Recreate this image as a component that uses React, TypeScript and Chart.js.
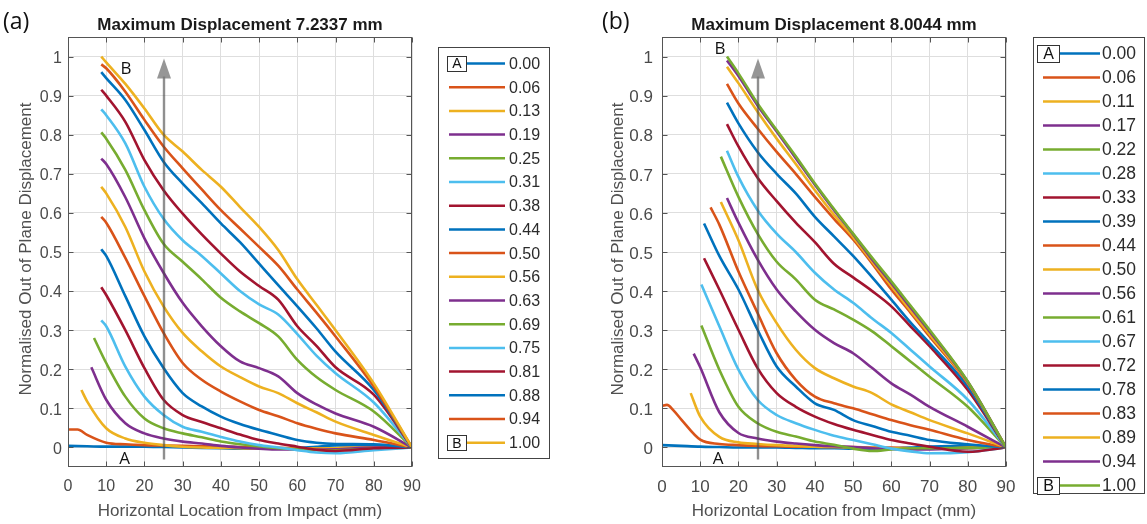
import React, { useEffect, useRef } from 'react';
import { Chart, registerables } from 'chart.js';

Chart.register(...registerables);

const FONT = "'Liberation Sans', Arial, Helvetica, sans-serif";
const TAG_FONT = "'Open Sans', 'Liberation Sans', sans-serif";
const LINE_COLORS = ['#0072BD', '#D95319', '#EDB120', '#7E2F8E', '#77AC30', '#4DBEEE', '#A2142F'];

// Shared sample positions along the plate (mm)
const xGrid = [5, 10, 15, 20, 25, 30, 35, 40, 45, 50, 55, 60, 65, 70, 80, 90];
const xTicks = [0, 10, 20, 30, 40, 50, 60, 70, 80, 90];
const yTicks = [0, 0.1, 0.2, 0.3, 0.4, 0.5, 0.6, 0.7, 0.8, 0.9, 1];
const yTickLabels = ['0', '0.1', '0.2', '0.3', '0.4', '0.5', '0.6', '0.7', '0.8', '0.9', '1'];

// Panel (a): normalised time labels
const labelsA = ['0.00', '0.06', '0.13', '0.19', '0.25', '0.31', '0.38', '0.44', '0.50', '0.56', '0.63', '0.69', '0.75', '0.81', '0.88', '0.94', '1.00'];
// leading points of each profile, [x, y]
const headsA: number[][][] = [
  [[0, 0.004]],
  [[0, 0.046], [2.5, 0.046]],
  [[3.5, 0.147]],
  [[6.1, 0.205]],
  [[6.8, 0.28]],
  [[8.7, 0.325]],
  [[8.7, 0.41]],
  [[8.7, 0.507]],
  [[8.7, 0.59]],
  [[8.7, 0.667]],
  [[8.7, 0.739]],
  [[8.7, 0.806]],
  [[8.7, 0.865]],
  [[8.7, 0.915]],
  [[8.7, 0.96]],
  [[8.7, 0.98]],
  [[8.7, 1.0]],
];
// profile values on xGrid
const rowsA: (number | null)[][] = [
  [0.003, 0.002, 0.002, 0.002, 0.001, 0.0, -0.001, -0.002, -0.003, -0.003, -0.003, -0.002, 0.002, 0.005, 0.006, 0],
  [0.032, 0.012, 0.008, 0.006, 0.005, 0.004, 0.003, 0.002, 0.001, 0, -0.001, -0.002, -0.003, -0.002, 0, 0],
  [0.118, 0.049, 0.023, 0.012, 0.006, 0.002, 0, -0.001, -0.002, -0.003, -0.003, -0.003, -0.003, -0.002, 0, 0],
  [null, 0.122, 0.062, 0.036, 0.023, 0.015, 0.01, 0.004, 0, -0.003, -0.005, -0.005, -0.006, -0.005, 0, 0],
  [null, 0.216, 0.13, 0.074, 0.049, 0.036, 0.026, 0.015, 0.008, 0.003, -0.002, -0.005, -0.007, -0.007, -0.003, 0],
  [null, 0.31, 0.207, 0.13, 0.083, 0.053, 0.04, 0.027, 0.015, 0.006, 0, -0.007, -0.013, -0.015, -0.007, 0],
  [null, 0.39, 0.3, 0.203, 0.122, 0.083, 0.065, 0.049, 0.033, 0.019, 0.01, 0.002, -0.006, -0.009, -0.002, 0],
  [null, 0.49, 0.387, 0.284, 0.203, 0.139, 0.105, 0.079, 0.06, 0.045, 0.032, 0.019, 0.012, 0.009, 0.008, 0],
  [null, 0.575, 0.485, 0.387, 0.293, 0.216, 0.173, 0.143, 0.118, 0.096, 0.08, 0.062, 0.048, 0.036, 0.019, 0],
  [null, 0.65, 0.564, 0.45, 0.361, 0.293, 0.246, 0.207, 0.18, 0.156, 0.139, 0.113, 0.09, 0.066, 0.032, 0],
  [null, 0.725, 0.64, 0.535, 0.447, 0.37, 0.31, 0.259, 0.22, 0.203, 0.182, 0.139, 0.11, 0.087, 0.053, 0],
  [null, 0.79, 0.71, 0.607, 0.521, 0.475, 0.43, 0.383, 0.348, 0.318, 0.284, 0.224, 0.18, 0.147, 0.092, 0],
  [null, 0.85, 0.778, 0.667, 0.585, 0.53, 0.49, 0.445, 0.4, 0.366, 0.34, 0.29, 0.235, 0.19, 0.115, 0],
  [null, 0.9, 0.833, 0.735, 0.658, 0.598, 0.545, 0.496, 0.45, 0.413, 0.378, 0.31, 0.26, 0.205, 0.135, 0],
  [null, 0.945, 0.889, 0.812, 0.731, 0.675, 0.625, 0.573, 0.525, 0.47, 0.415, 0.361, 0.305, 0.245, 0.147, 0],
  [null, 0.97, 0.91, 0.838, 0.77, 0.714, 0.66, 0.607, 0.56, 0.513, 0.465, 0.404, 0.345, 0.284, 0.156, 0],
  [null, 0.985, 0.93, 0.867, 0.8, 0.757, 0.71, 0.667, 0.615, 0.564, 0.505, 0.43, 0.365, 0.3, 0.164, 0],
];

// Panel (b)
const labelsB = ['0.00', '0.06', '0.11', '0.17', '0.22', '0.28', '0.33', '0.39', '0.44', '0.50', '0.56', '0.61', '0.67', '0.72', '0.78', '0.83', '0.89', '0.94', '1.00'];
const headsB: number[][][] = [
  [[0, 0.006]],
  [[0, 0.106], [1.3, 0.109], [3, 0.095]],
  [[7.5, 0.139]],
  [[8.3, 0.24]],
  [[10.3, 0.312]],
  [[10.3, 0.417]],
  [[11, 0.484]],
  [[11, 0.573]],
  [[12.7, 0.614]],
  [[15.4, 0.628]],
  [[17, 0.638]],
  [[15.4, 0.744]],
  [[17, 0.759]],
  [[17, 0.827]],
  [[17, 0.882]],
  [[17, 0.93]],
  [[17, 0.974]],
  [[17, 0.99]],
  [[17, 1.0]],
];
const rowsB: (number | null)[][] = [
  [0.004, 0.002, 0.001, 0, 0, 0, -0.001, -0.002, -0.002, -0.003, -0.003, -0.002, 0, 0.002, 0.004, 0],
  [0.072, 0.02, 0.009, 0.006, 0.004, 0.003, 0.002, 0.002, 0.001, 0.001, 0, 0, -0.002, -0.003, -0.001, 0],
  [null, 0.079, 0.027, 0.013, 0.009, 0.006, 0.004, 0.002, 0.001, 0, -0.001, -0.002, -0.003, -0.003, -0.001, 0],
  [null, 0.205, 0.09, 0.037, 0.023, 0.015, 0.01, 0.006, 0.003, 0.001, -0.002, -0.004, -0.005, -0.005, -0.002, 0],
  [null, null, 0.199, 0.104, 0.062, 0.04, 0.028, 0.015, 0.007, -0.003, -0.009, -0.005, -0.002, -0.002, -0.001, 0],
  [null, null, 0.31, 0.199, 0.122, 0.083, 0.062, 0.045, 0.03, 0.019, 0.008, -0.003, -0.01, -0.015, -0.012, 0],
  [null, null, 0.404, 0.301, 0.203, 0.139, 0.104, 0.079, 0.06, 0.045, 0.032, 0.019, 0.01, 0.002, -0.011, 0],
  [null, null, 0.49, 0.404, 0.301, 0.207, 0.156, 0.113, 0.096, 0.07, 0.055, 0.04, 0.03, 0.019, 0.008, 0],
  [null, null, 0.57, 0.45, 0.344, 0.241, 0.173, 0.13, 0.113, 0.1, 0.085, 0.07, 0.057, 0.045, 0.019, 0],
  [null, null, null, 0.53, 0.404, 0.318, 0.25, 0.203, 0.177, 0.156, 0.139, 0.11, 0.09, 0.07, 0.036, 0],
  [null, null, null, 0.575, 0.481, 0.404, 0.348, 0.301, 0.267, 0.241, 0.203, 0.164, 0.135, 0.104, 0.053, 0],
  [null, null, null, 0.641, 0.547, 0.475, 0.43, 0.378, 0.353, 0.327, 0.297, 0.259, 0.22, 0.181, 0.104, 0],
  [null, null, null, 0.692, 0.607, 0.547, 0.5, 0.447, 0.404, 0.37, 0.33, 0.293, 0.25, 0.207, 0.122, 0],
  [null, null, null, 0.77, 0.69, 0.63, 0.575, 0.525, 0.47, 0.435, 0.4, 0.361, 0.31, 0.259, 0.147, 0],
  [null, null, null, 0.829, 0.756, 0.7, 0.65, 0.59, 0.54, 0.49, 0.435, 0.378, 0.32, 0.267, 0.156, 0],
  [null, null, null, 0.88, 0.816, 0.756, 0.7, 0.641, 0.585, 0.532, 0.47, 0.404, 0.345, 0.284, 0.164, 0],
  [null, null, null, 0.932, 0.859, 0.79, 0.725, 0.658, 0.595, 0.538, 0.475, 0.413, 0.35, 0.289, 0.166, 0],
  [null, null, null, 0.95, 0.875, 0.808, 0.74, 0.672, 0.607, 0.545, 0.48, 0.42, 0.358, 0.297, 0.168, 0],
  [null, null, null, 0.957, 0.88, 0.812, 0.745, 0.675, 0.61, 0.547, 0.485, 0.425, 0.363, 0.301, 0.169, 0],
];

type LegendCfg = {
  x: number; y: number; w: number; h: number;
  firstY: number; step: number;
  lineX0: number; lineX1: number; textX: number; font: number;
  boxX: number; boxW: number; boxH: number; boxFont: number;
};

type PanelCfg = {
  left: number; width: number;
  padLeft: number; padRight: number;
  title: string; tag: string; tagX: number;
  labels: string[]; heads: number[][][]; rows: (number | null)[][];
  tickFont: number; yLabelRight: number; yTitleX: number;
  legend: LegendCfg;
  markA: number[]; markB: number[];
};

const panelA: PanelCfg = {
  left: 0, width: 575, padLeft: 68, padRight: 163,
  title: 'Maximum Displacement 7.2337 mm', tag: '(a)', tagX: 3,
  labels: labelsA, heads: headsA, rows: rowsA,
  tickFont: 16, yLabelRight: 62, yTitleX: 26,
  legend: { x: 438, y: 47, w: 111, h: 411, firstY: 63.5, step: 23.7, lineX0: 449, lineX1: 505, textX: 509, font: 16, boxX: 447, boxW: 19, boxH: 15, boxFont: 14 },
  markA: [14.8, -0.031], markB: [15.2, 0.967],
};

const panelB: PanelCfg = {
  left: 575, width: 572, padLeft: 87, padRight: 141,
  title: 'Maximum Displacement 8.0044 mm', tag: '(b)', tagX: 27,
  labels: labelsB, heads: headsB, rows: rowsB,
  tickFont: 17, yLabelRight: 78, yTitleX: 43,
  legend: { x: 458, y: 37, w: 111, h: 456, firstY: 53.5, step: 24, lineX0: 468, lineX1: 525, textX: 527, font: 17.5, boxX: 462, boxW: 22, boxH: 17, boxFont: 16 },
  markA: [14.7, -0.031], markB: [15.2, 1.018],
};

const ARROW_X = 25;
const ARROW_FROM = -0.031;
const ARROW_TO = 0.995;

function buildSeries(heads: number[][][], rows: (number | null)[][]) {
  return heads.map((head, i) => {
    const pts = head.map(([x, y]) => ({ x, y }));
    const lastX = head[head.length - 1][0];
    rows[i].forEach((v, j) => {
      if (v !== null && xGrid[j] > lastX) pts.push({ x: xGrid[j], y: v });
    });
    return pts;
  });
}

function makeOverlay(cfg: PanelCfg) {
  return {
    id: 'panelOverlay',
    afterDraw(chart: any) {
      const ctx: CanvasRenderingContext2D = chart.ctx;
      const xs = chart.scales.x;
      const ys = chart.scales.y;
      const { left, right, top, bottom } = chart.chartArea;
      const L = Math.round(left) + 0.5;
      const R = Math.round(right) - 0.5;
      const T = Math.round(top) + 0.5;
      const B = Math.round(bottom) - 0.5;
      ctx.save();

      // time-direction arrow
      const ax = Math.round(xs.getPixelForValue(ARROW_X));
      const ay0 = ys.getPixelForValue(ARROW_FROM);
      const ay1 = ys.getPixelForValue(ARROW_TO);
      ctx.strokeStyle = 'rgba(75,75,75,0.62)';
      ctx.lineWidth = 2.4;
      ctx.beginPath();
      ctx.moveTo(ax, ay0);
      ctx.lineTo(ax, ay1 + 18);
      ctx.stroke();
      ctx.fillStyle = 'rgba(120,120,120,0.78)';
      ctx.beginPath();
      ctx.moveTo(ax, ay1);
      ctx.lineTo(ax - 7, ay1 + 20);
      ctx.lineTo(ax + 7, ay1 + 20);
      ctx.closePath();
      ctx.fill();

      // axes box and inward ticks
      ctx.strokeStyle = '#555555';
      ctx.lineWidth = 1;
      ctx.strokeRect(L, T, R - L, B - T);
      ctx.beginPath();
      xTicks.forEach((v) => {
        const px = Math.round(xs.getPixelForValue(v)) + 0.5;
        ctx.moveTo(px, B); ctx.lineTo(px, B - 5);
        ctx.moveTo(px, T); ctx.lineTo(px, T + 5);
      });
      yTicks.forEach((v) => {
        const py = Math.round(ys.getPixelForValue(v)) + 0.5;
        ctx.moveTo(L, py); ctx.lineTo(L + 5, py);
        ctx.moveTo(R, py); ctx.lineTo(R - 5, py);
      });
      ctx.stroke();

      // tick labels
      ctx.fillStyle = '#4a4a4a';
      ctx.font = `${cfg.tickFont}px ${FONT}`;
      ctx.textAlign = 'center';
      ctx.textBaseline = 'middle';
      xTicks.forEach((v) => {
        ctx.fillText(String(v), xs.getPixelForValue(v), 487);
      });
      ctx.textAlign = 'right';
      yTicks.forEach((v, i) => {
        ctx.fillText(yTickLabels[i], cfg.yLabelRight, ys.getPixelForValue(v) + 2);
      });

      // axis titles
      ctx.font = `17px ${FONT}`;
      ctx.textAlign = 'center';
      ctx.fillStyle = '#505050';
      ctx.fillText('Horizontal Location from Impact (mm)', (left + right) / 2, 511);
      ctx.save();
      ctx.translate(cfg.yTitleX, (top + bottom) / 2 - 3);
      ctx.rotate(-Math.PI / 2);
      ctx.fillText('Normalised Out of Plane Displacement', 0, 0);
      ctx.restore();

      // title and panel tag
      ctx.fillStyle = '#1a1a1a';
      ctx.font = `bold 17px ${FONT}`;
      ctx.fillText(cfg.title, (left + right) / 2, 25);
      ctx.textAlign = 'left';
      ctx.font = `23px ${TAG_FONT}`;
      ctx.fillStyle = '#111';
      ctx.fillText(cfg.tag, cfg.tagX, 22);

      // start / end markers in the plot
      ctx.font = `17px ${TAG_FONT}`;
      ctx.textAlign = 'center';
      ctx.fillStyle = '#111';
      ctx.fillText('A', xs.getPixelForValue(cfg.markA[0]), ys.getPixelForValue(cfg.markA[1]));
      ctx.fillText('B', xs.getPixelForValue(cfg.markB[0]), ys.getPixelForValue(cfg.markB[1]));

      // legend
      const lg = cfg.legend;
      ctx.fillStyle = '#ffffff';
      ctx.fillRect(lg.x, lg.y, lg.w, lg.h);
      ctx.strokeStyle = '#444';
      ctx.lineWidth = 1;
      ctx.strokeRect(lg.x + 0.5, lg.y + 0.5, lg.w, lg.h);
      const n = cfg.labels.length;
      cfg.labels.forEach((lab, i) => {
        const y = lg.firstY + i * lg.step;
        const isEnd = i === 0 || i === n - 1;
        const x0 = isEnd ? lg.boxX + lg.boxW : lg.lineX0;
        ctx.strokeStyle = LINE_COLORS[i % LINE_COLORS.length];
        ctx.lineWidth = 2.5;
        ctx.beginPath();
        ctx.moveTo(x0, y);
        ctx.lineTo(lg.lineX1, y);
        ctx.stroke();
        ctx.fillStyle = '#2b2b2b';
        ctx.font = `${lg.font}px ${FONT}`;
        ctx.textAlign = 'left';
        ctx.textBaseline = 'middle';
        ctx.fillText(lab, lg.textX, y + 1);
        if (isEnd) {
          ctx.fillStyle = '#fff';
          ctx.fillRect(lg.boxX, y - lg.boxH / 2, lg.boxW, lg.boxH);
          ctx.strokeStyle = '#333';
          ctx.lineWidth = 1;
          ctx.strokeRect(lg.boxX + 0.5, Math.round(y - lg.boxH / 2) + 0.5, lg.boxW, lg.boxH);
          ctx.fillStyle = '#111';
          ctx.font = `${lg.boxFont}px ${FONT}`;
          ctx.textAlign = 'center';
          ctx.fillText(i === 0 ? 'A' : 'B', lg.boxX + lg.boxW / 2 + 0.5, y + 1);
        }
      });
      ctx.restore();
    },
  };
}

function Panel({ cfg }: { cfg: PanelCfg }) {
  const ref = useRef<HTMLCanvasElement>(null);
  useEffect(() => {
    const canvas = ref.current;
    if (!canvas) return;
    const series = buildSeries(cfg.heads, cfg.rows);
    const n = cfg.labels.length;
    const chart = new Chart(canvas, {
      type: 'line',
      data: {
        datasets: series.map((pts, i) => ({
          label: cfg.labels[i],
          data: pts,
          borderColor: LINE_COLORS[i % LINE_COLORS.length],
          backgroundColor: LINE_COLORS[i % LINE_COLORS.length],
          borderWidth: 2.6,
          pointRadius: 0,
          fill: false,
          cubicInterpolationMode: 'monotone' as const,
          order: n - i,
        })),
      },
      options: {
        animation: false,
        responsive: false,
        devicePixelRatio: 1,
        events: [],
        layout: { padding: { left: cfg.padLeft, right: cfg.padRight, top: 37, bottom: 57 } },
        plugins: { legend: { display: false }, tooltip: { enabled: false }, title: { display: false } },
        scales: {
          x: {
            type: 'linear',
            min: 0,
            max: 90,
            afterBuildTicks: (s: any) => { s.ticks = xTicks.map((v) => ({ value: v })); },
            afterFit: (s: any) => { s.height = 0; },
            grid: { color: '#dedede', lineWidth: 1, drawTicks: false },
            border: { display: false },
            ticks: { display: false },
          },
          y: {
            type: 'linear',
            min: -0.05,
            max: 1.05,
            afterBuildTicks: (s: any) => { s.ticks = yTicks.map((v) => ({ value: v })); },
            afterFit: (s: any) => { s.width = 0; },
            grid: { color: '#dedede', lineWidth: 1, drawTicks: false },
            border: { display: false },
            ticks: { display: false },
          },
        },
      },
      plugins: [makeOverlay(cfg)],
    } as any);
    return () => chart.destroy();
  }, [cfg]);
  return (
    <canvas
      ref={ref}
      width={cfg.width}
      height={524}
      style={{ position: 'absolute', left: cfg.left, top: 0, width: cfg.width, height: 524 }}
    />
  );
}

export default function App() {
  return (
    <div style={{ position: 'fixed', left: 0, top: 0, width: 1147, height: 524, background: '#ffffff', overflow: 'hidden' }}>
      <Panel cfg={panelA} />
      <Panel cfg={panelB} />
    </div>
  );
}
